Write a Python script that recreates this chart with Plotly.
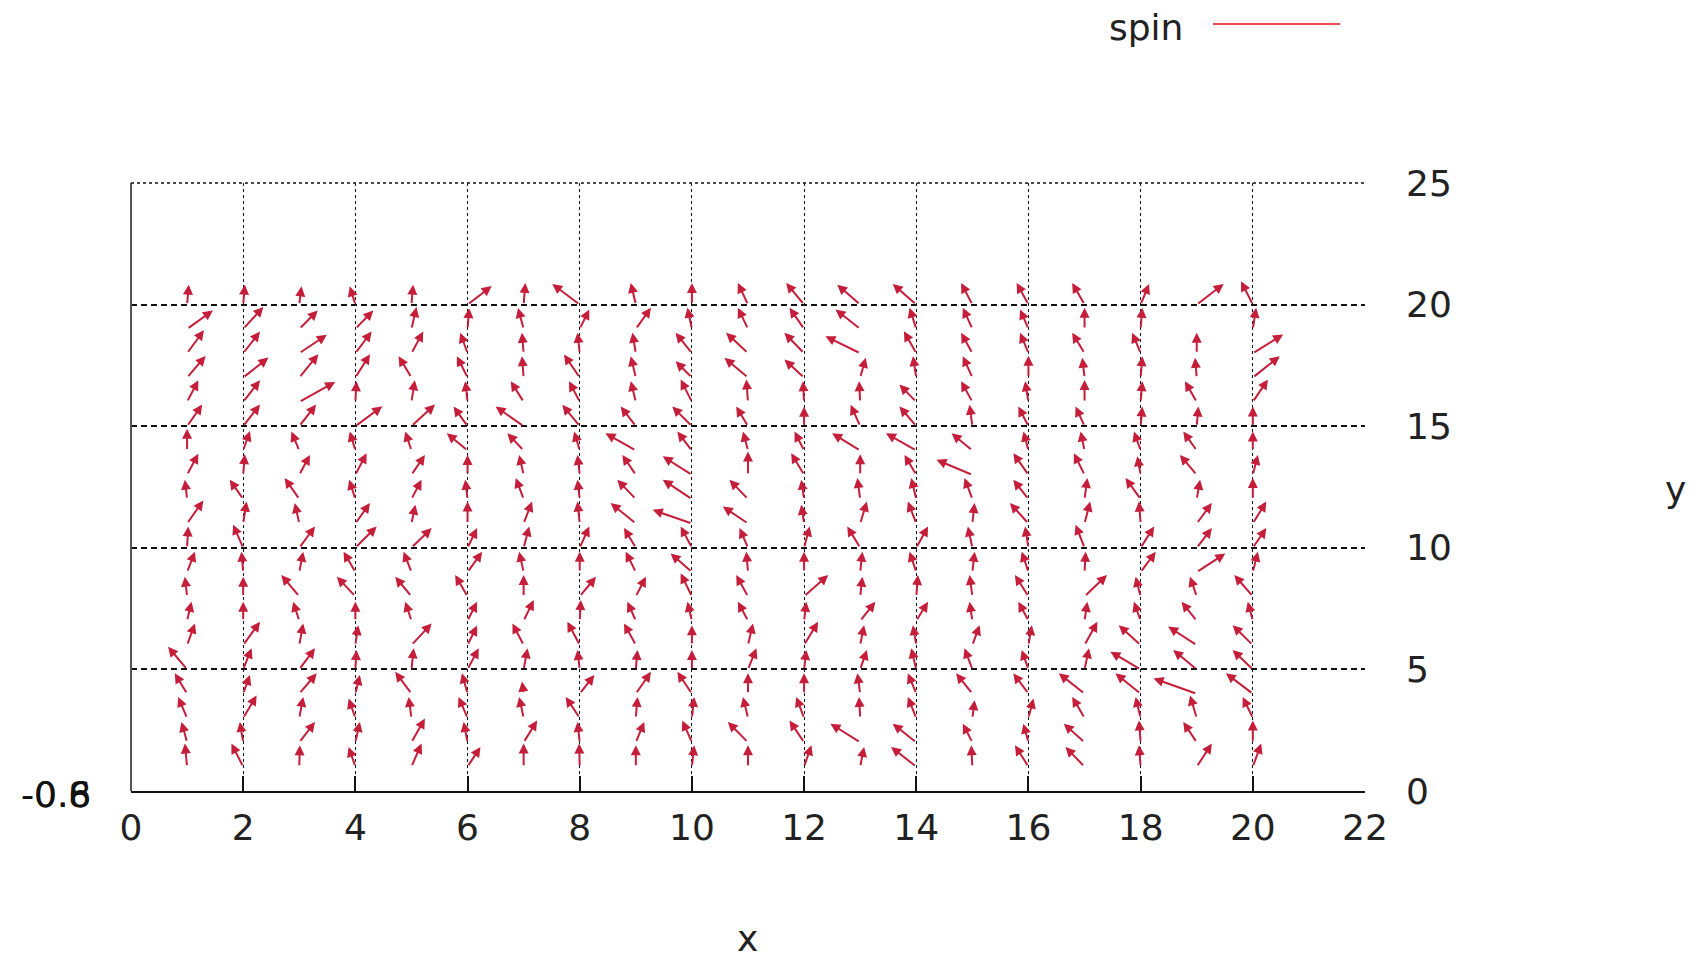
import plotly.graph_objects as go

# ---- data: spin vectors (dx, dy) on the 20x20 lattice, x = 1..20 per row ----
xs = list(range(1, 21))

dx20 = [0.03, 0.03, 0.04, -0.1, 0.03, 0.43, 0.03, -0.49, -0.09, 0.0, -0.18, -0.32, -0.41, -0.42, -0.2, -0.21, -0.22, 0.15, 0.48, -0.21]
dy20 = [0.82, 0.82, 0.75, 0.75, 0.82, 0.76, 0.89, 0.85, 0.89, 0.89, 0.89, 0.89, 0.82, 0.85, 0.89, 0.89, 0.89, 0.85, 0.85, 0.96]
dx19 = [0.46, 0.36, 0.33, 0.32, 0.09, 0.03, -0.1, 0.17, 0.27, -0.08, -0.18, -0.26, -0.44, -0.12, -0.17, -0.15, 0.0, 0.03, 0.0, 0.06]
dy19 = [0.76, 0.9, 0.76, 0.76, 0.9, 0.85, 0.86, 0.8, 0.87, 0.87, 0.87, 0.87, 0.8, 0.87, 0.87, 0.8, 0.87, 0.87, 0.15, 0.87]
dx18 = [0.3, 0.3, 0.49, 0.29, 0.21, -0.13, -0.03, -0.04, -0.06, -0.29, -0.39, -0.35, -0.62, -0.22, -0.2, -0.15, -0.22, -0.15, 0.0, 0.54]
dy18 = [0.95, 0.89, 0.76, 0.89, 0.89, 0.84, 0.84, 0.84, 0.84, 0.84, 0.84, 0.84, 0.7, 0.9, 0.84, 0.84, 0.84, 0.84, 0.84, 0.77]
dx17 = [0.33, 0.45, 0.34, 0.26, -0.23, -0.19, -0.03, -0.28, -0.09, -0.29, -0.42, -0.35, 0.1, -0.06, -0.17, 0.0, -0.04, 0.03, -0.03, 0.48]
dy17 = [0.89, 0.82, 0.96, 0.96, 0.88, 0.88, 0.88, 0.95, 0.88, 0.67, 0.81, 0.74, 0.81, 0.88, 0.88, 0.9, 0.81, 0.88, 0.81, 0.88]
dx16 = [0.2, 0.3, 0.64, 0.02, 0.06, -0.04, -0.23, -0.19, -0.09, -0.2, -0.03, -0.02, -0.02, -0.3, -0.2, -0.06, 0.0, 0.03, -0.21, 0.27]
dy16 = [0.89, 0.89, 0.82, 0.85, 0.89, 0.85, 0.85, 0.85, 0.85, 0.92, 0.92, 0.85, 0.85, 0.71, 0.85, 0.85, 0.9, 0.85, 0.85, 0.92]
dx15 = [0.27, 0.3, 0.3, 0.48, 0.42, -0.25, -0.5, -0.31, -0.27, -0.35, -0.21, 0.0, -0.17, -0.3, -0.05, -0.18, -0.16, 0.03, 0.03, 0.0]
dy15 = [0.89, 0.89, 0.89, 0.82, 0.89, 0.81, 0.81, 0.88, 0.81, 0.81, 0.81, 0.8, 0.88, 0.81, 0.88, 0.81, 0.81, 0.81, 0.81, 0.81]
dx14 = [0.0, 0.12, -0.14, -0.1, -0.11, -0.37, -0.29, -0.1, -0.54, -0.26, -0.09, -0.17, -0.5, -0.54, -0.37, -0.09, -0.07, -0.12, -0.24, 0.0]
dy14 = [0.9, 0.8, 0.78, 0.78, 0.78, 0.71, 0.71, 0.78, 0.71, 0.78, 0.78, 0.78, 0.71, 0.71, 0.71, 0.78, 0.78, 0.78, 0.78, 0.78]
dx13 = [0.2, 0.03, 0.19, 0.2, 0.24, 0.0, -0.08, -0.04, -0.24, -0.52, 0.0, -0.23, 0.0, -0.21, -0.64, -0.27, -0.19, -0.06, -0.3, 0.09]
dy13 = [0.87, 0.85, 0.82, 0.89, 0.82, 0.82, 0.82, 0.82, 0.82, 0.76, 0.96, 0.89, 0.85, 0.82, 0.62, 0.89, 0.89, 0.76, 0.82, 0.82]
dx12 = [-0.04, -0.24, -0.26, -0.11, 0.18, -0.04, -0.14, -0.04, -0.33, -0.52, -0.33, -0.05, -0.05, -0.09, -0.14, -0.27, 0.05, -0.27, 0.06, 0.0]
dy12 = [0.8, 0.8, 0.87, 0.8, 0.8, 0.8, 0.87, 0.8, 0.8, 0.8, 0.8, 0.8, 0.87, 0.87, 0.87, 0.8, 0.87, 0.87, 0.8, 0.87]
dx11 = [0.29, 0.06, -0.08, 0.26, 0.07, 0.0, 0.15, -0.04, -0.45, -0.7, -0.45, -0.05, 0.12, -0.15, 0.04, -0.33, 0.1, -0.03, 0.27, 0.24]
dy11 = [0.95, 0.9, 0.84, 0.84, 0.77, 0.9, 0.9, 0.9, 0.84, 0.56, 0.7, 0.77, 0.9, 0.9, 0.84, 0.84, 0.9, 0.9, 0.84, 0.9]
dx10 = [0.02, -0.18, 0.28, 0.38, 0.36, 0.17, 0.1, 0.17, -0.21, -0.2, -0.15, 0.1, -0.23, 0.21, -0.08, -0.06, -0.16, 0.24, 0.27, 0.24]
dy10 = [0.88, 0.95, 0.88, 0.88, 0.81, 0.81, 0.88, 0.88, 0.81, 0.88, 0.81, 0.88, 0.88, 0.88, 0.88, 0.88, 0.95, 0.88, 0.81, 0.81]
dx9 = [0.14, -0.03, 0.07, -0.21, -0.14, 0.26, -0.08, 0.0, -0.18, -0.38, -0.03, 0.0, 0.04, -0.12, 0.04, -0.12, 0.02, 0.27, 0.51, 0.09]
dy9 = [0.84, 0.84, 0.84, 0.84, 0.84, 0.84, 0.84, 0.84, 0.84, 0.77, 0.84, 0.84, 0.84, 0.84, 0.84, 0.84, 0.84, 0.84, 0.77, 0.84]
dx8 = [-0.04, 0.0, -0.32, -0.33, -0.29, -0.22, 0.0, 0.29, 0.18, -0.2, -0.21, 0.43, 0.04, 0.03, -0.05, -0.24, 0.4, -0.09, -0.12, -0.33]
dy8 = [0.81, 0.81, 0.88, 0.81, 0.81, 0.88, 0.88, 0.81, 0.81, 0.95, 0.88, 0.88, 0.81, 0.88, 0.88, 0.88, 0.88, 0.81, 0.81, 0.88]
dx7 = [0.08, 0.0, -0.11, 0.0, -0.11, 0.17, 0.18, 0.02, -0.15, -0.08, -0.18, 0.04, 0.27, 0.21, -0.05, -0.18, 0.05, -0.12, -0.27, -0.09]
dy7 = [0.78, 0.78, 0.78, 0.78, 0.78, 0.78, 0.85, 0.85, 0.78, 0.78, 0.78, 0.78, 0.78, 0.78, 0.78, 0.78, 0.78, 0.78, 0.78, 0.78]
dx6 = [0.14, 0.3, 0.07, 0.05, 0.36, 0.17, -0.2, -0.22, -0.21, 0.0, 0.09, 0.25, 0.07, -0.06, 0.13, 0.06, 0.23, -0.39, -0.51, -0.36]
dy6 = [0.89, 0.96, 0.89, 0.82, 0.89, 0.8, 0.89, 0.96, 0.89, 0.82, 0.89, 0.96, 0.82, 0.82, 0.82, 0.82, 0.96, 0.82, 0.76, 0.82]
dx5 = [-0.34, 0.15, 0.28, 0.02, 0.04, 0.2, 0.07, -0.04, 0.03, 0.0, 0.15, 0.04, 0.12, -0.09, -0.14, -0.12, 0.08, -0.54, -0.42, -0.36]
dy5 = [0.93, 0.87, 0.87, 0.8, 0.87, 0.87, 0.87, 0.8, 0.8, 0.8, 0.87, 0.8, 0.8, 0.87, 0.87, 0.8, 0.87, 0.73, 0.8, 0.8]
dx4 = [-0.22, 0.12, 0.31, 0.08, -0.29, -0.1, -0.03, 0.26, 0.27, -0.26, 0.0, 0.0, -0.05, -0.15, -0.29, -0.27, -0.46, -0.45, -0.77, -0.48]
dy4 = [0.84, 0.77, 0.84, 0.77, 0.9, 0.84, 0.5, 0.77, 0.9, 0.9, 0.84, 0.84, 0.84, 0.84, 0.84, 0.84, 0.84, 0.84, 0.63, 0.84]
dx3 = [-0.16, 0.24, 0.07, -0.12, -0.05, -0.16, -0.08, -0.25, 0.03, 0.04, -0.09, -0.14, -0.02, -0.15, 0.04, 0.09, -0.22, -0.09, -0.12, -0.18]
dy3 = [0.87, 0.93, 0.87, 0.8, 0.87, 0.87, 0.87, 0.87, 0.87, 0.87, 0.87, 0.87, 0.87, 0.87, 0.73, 0.8, 0.87, 0.87, 0.93, 0.87]
dx2 = [-0.1, -0.06, 0.28, 0.08, 0.24, -0.07, 0.24, -0.04, 0.15, -0.17, -0.36, -0.26, -0.53, -0.42, -0.17, -0.09, -0.37, -0.03, -0.24, 0.0]
dy2 = [0.84, 0.84, 0.84, 0.84, 0.98, 0.84, 0.9, 0.84, 0.84, 0.9, 0.84, 0.9, 0.77, 0.77, 0.77, 0.77, 0.77, 0.9, 0.84, 0.9]
dx1 = [-0.04, -0.21, 0.01, -0.12, 0.18, 0.23, 0.0, -0.01, 0.0, 0.04, 0.0, 0.13, 0.07, -0.45, -0.02, -0.24, -0.34, -0.03, 0.27, 0.15]
dy1 = [0.95, 0.95, 0.88, 0.81, 0.95, 0.81, 0.95, 0.95, 0.88, 0.88, 0.88, 0.88, 0.81, 0.81, 0.88, 0.88, 0.81, 0.88, 0.95, 0.95]

rows = [
    (1, dx1, dy1), (2, dx2, dy2), (3, dx3, dy3), (4, dx4, dy4), (5, dx5, dy5),
    (6, dx6, dy6), (7, dx7, dy7), (8, dx8, dy8), (9, dx9, dy9), (10, dx10, dy10),
    (11, dx11, dy11), (12, dx12, dy12), (13, dx13, dy13), (14, dx14, dy14), (15, dx15, dy15),
    (16, dx16, dy16), (17, dx17, dy17), (18, dx18, dy18), (19, dx19, dy19), (20, dx20, dy20),
]

x_ticks = list(range(0, 23, 2))
y_ticks = list(range(0, 26, 5))
z_labels = ["-0.8", "-0.6"]

# ---- layout constants (pixels); page body has an 8px margin ----
OFF = 8
W, H = 1690, 950
L, R, T, B = 123, 333, 175, 167
PW, PH = W - L - R, H - T - B
FONT = "DejaVu Sans"
FS = 36
ARROW = "#c41e3a"
GRID = "#111111"


def px(xp):
    return (xp - OFF - L) / PW


def py(yp):
    return (OFF + H - B - yp) / PH


fig = go.Figure()

# invisible trace to establish axes
fig.add_trace(go.Scatter(x=[0, 22], y=[0, 25], mode="markers",
                         marker=dict(opacity=0), showlegend=False, hoverinfo="skip"))

annotations = []
for yv, dxs, dys in rows:
    for xv, dx, dy in zip(xs, dxs, dys):
        annotations.append(dict(
            x=xv + dx, y=yv + dy, ax=xv, ay=yv,
            xref="x", yref="y", axref="x", ayref="y",
            text="", showarrow=True, arrowhead=2, arrowsize=1.0,
            arrowwidth=2.0, arrowcolor=ARROW, standoff=0, startstandoff=0,
        ))

# legend: text + sample line
annotations.append(dict(x=px(1184), y=py(27), xref="paper", yref="paper",
                        text="spin", showarrow=False, xanchor="right", yanchor="middle",
                        borderpad=0,
                        font=dict(family=FONT, size=FS, color="#222")))
# axis titles
annotations.append(dict(x=px(747), y=py(938), xref="paper", yref="paper",
                        text="x", showarrow=False, xanchor="center", yanchor="middle",
                        font=dict(family=FONT, size=FS, color="#222")))
annotations.append(dict(x=px(1675), y=py(490), xref="paper", yref="paper",
                        text="y", showarrow=False, xanchor="center", yanchor="middle",
                        font=dict(family=FONT, size=FS, color="#222")))
# overlapping z-axis labels at lower-left corner
for zl in z_labels:
    annotations.append(dict(x=px(93), y=py(794), xref="paper", yref="paper",
                            text=zl, showarrow=False, xanchor="right", yanchor="middle",
                            font=dict(family=FONT, size=FS, color="#111")))

shapes = [
    # legend sample line
    dict(type="line", xref="paper", yref="paper", x0=px(1213), x1=px(1340),
         y0=py(24), y1=py(24), line=dict(color="#e8101c", width=1.5)),
    # left border (solid grey)
    dict(type="line", xref="paper", yref="paper", x0=0, x1=0, y0=0, y1=1,
         line=dict(color="#555", width=2)),
    # top border (dotted)
    dict(type="line", xref="paper", yref="paper", x0=0, x1=1, y0=1, y1=1,
         line=dict(color=GRID, width=1.5, dash="dot")),
]

fig.update_layout(
    width=W, height=H,
    margin=dict(l=L, r=R, t=T, b=B, pad=0),
    paper_bgcolor="white", plot_bgcolor="white",
    showlegend=False,
    annotations=annotations,
    shapes=shapes,
    xaxis=dict(
        range=[0, 22], tickvals=x_ticks, ticktext=[str(v) for v in x_ticks],
        showgrid=True, gridcolor=GRID, griddash="dot", gridwidth=1.4,
        zeroline=False, showline=True, linecolor="#111", linewidth=2,
        ticks="inside", ticklen=15, tickwidth=2, tickcolor="#111",
        ticklabelstandoff=4,
        tickfont=dict(family=FONT, size=FS, color="#222"),
    ),
    yaxis=dict(
        range=[0, 25], tickvals=y_ticks, ticktext=[str(v) for v in y_ticks],
        side="right", showgrid=True, gridcolor=GRID, griddash="6px,4px", gridwidth=1.8,
        zeroline=False, showline=False, ticks="",
        ticklabelstandoff=40,
        tickfont=dict(family=FONT, size=FS, color="#222"),
    ),
)

fig.write_html("out.html")
